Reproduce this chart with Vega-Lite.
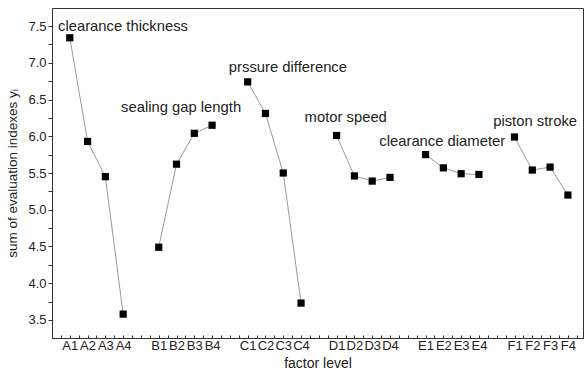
{
  "$schema": "https://vega.github.io/schema/vega-lite/v6.json",
  "autosize": "none",
  "width": 531,
  "height": 330,
  "padding": {"left": 52, "top": 8, "right": 1, "bottom": 35},
  "config": {
    "font": "Liberation Sans",
    "view": {"stroke": "#333", "strokeWidth": 1},
    "axis": {"grid": false, "domainColor": "#333", "tickColor": "#333", "labelColor": "#222", "titleColor": "#222", "labelFont": "Liberation Sans", "titleFont": "Liberation Sans", "titleFontWeight": "normal", "labelFontSize": 13, "titleFontSize": 14}
  },
  "datasets": {
    "pts": [
      {"group": "A", "level": "A1", "pos": 1, "y": 7.34},
      {"group": "A", "level": "A2", "pos": 2, "y": 5.93},
      {"group": "A", "level": "A3", "pos": 3, "y": 5.45},
      {"group": "A", "level": "A4", "pos": 4, "y": 3.58},
      {"group": "B", "level": "B1", "pos": 6, "y": 4.49},
      {"group": "B", "level": "B2", "pos": 7, "y": 5.62},
      {"group": "B", "level": "B3", "pos": 8, "y": 6.04},
      {"group": "B", "level": "B4", "pos": 9, "y": 6.15},
      {"group": "C", "level": "C1", "pos": 11, "y": 6.74},
      {"group": "C", "level": "C2", "pos": 12, "y": 6.31},
      {"group": "C", "level": "C3", "pos": 13, "y": 5.50},
      {"group": "C", "level": "C4", "pos": 14, "y": 3.73},
      {"group": "D", "level": "D1", "pos": 16, "y": 6.01},
      {"group": "D", "level": "D2", "pos": 17, "y": 5.46},
      {"group": "D", "level": "D3", "pos": 18, "y": 5.39},
      {"group": "D", "level": "D4", "pos": 19, "y": 5.44},
      {"group": "E", "level": "E1", "pos": 21, "y": 5.75},
      {"group": "E", "level": "E2", "pos": 22, "y": 5.57},
      {"group": "E", "level": "E3", "pos": 23, "y": 5.49},
      {"group": "E", "level": "E4", "pos": 24, "y": 5.48},
      {"group": "F", "level": "F1", "pos": 26, "y": 5.99},
      {"group": "F", "level": "F2", "pos": 27, "y": 5.54},
      {"group": "F", "level": "F3", "pos": 28, "y": 5.58},
      {"group": "F", "level": "F4", "pos": 29, "y": 5.20}
    ],
    "labels": [
      {"text": "clearance thickness", "pos": 0.34, "y": 7.49},
      {"text": "sealing gap length", "pos": 3.88, "y": 6.38},
      {"text": "prssure difference", "pos": 9.94, "y": 6.93},
      {"text": "motor speed", "pos": 14.2, "y": 6.25},
      {"text": "clearance diameter", "pos": 18.4, "y": 5.92},
      {"text": "piston stroke", "pos": 24.8, "y": 6.19}
    ]
  },
  "layer": [
    {
      "data": {"name": "pts"},
      "mark": {"type": "line", "color": "#9a9a9a", "strokeWidth": 1},
      "encoding": {
        "x": {"field": "pos", "type": "quantitative", "scale": {"domain": [0, 29.85], "nice": false, "zero": false},
          "axis": {"title": "factor level", "tickCount": 200, "values": [0.5,1,1.5,2,2.5,3,3.5,4,4.5,5,5.5,6,6.5,7,7.5,8,8.5,9,9.5,10,10.5,11,11.5,12,12.5,13,13.5,14,14.5,15,15.5,16,16.5,17,17.5,18,18.5,19,19.5,20,20.5,21,21.5,22,22.5,23,23.5,24,24.5,25,25.5,26,26.5,27,27.5,28,28.5,29,29.5],
            "labelExpr": "(datum.value % 1 == 0 && datum.value % 5 != 0) ? substring('ABCDEF', floor(datum.value / 5), floor(datum.value / 5) + 1) + (datum.value % 5) : ''",
            "tickSize": -3, "labelPadding": 4, "labelOverlap": false, "labelBound": false, "titlePadding": 4, "labelFlush": false}},
        "y": {"field": "y", "type": "quantitative", "scale": {"domain": [3.255, 7.745], "nice": false, "zero": false},
          "axis": {"title": "sum of evaluation indexes yᵢ", "titleFontSize": 13.5, "tickCount": 100, "values": [3.5,3.75,4,4.25,4.5,4.75,5,5.25,5.5,5.75,6,6.25,6.5,6.75,7,7.25,7.5],
            "labelExpr": "(datum.value * 2) % 1 == 0 ? format(datum.value, '.1f') : ''", "tickSize": 4, "labelPadding": 2, "titlePadding": 8, "labelOverlap": false}},
        "detail": {"field": "group"}
      }
    },
    {
      "data": {"name": "pts"},
      "mark": {"type": "point", "shape": "square", "filled": true, "color": "#000", "size": 52, "opacity": 1},
      "encoding": {
        "x": {"field": "pos", "type": "quantitative"},
        "y": {"field": "y", "type": "quantitative"}
      }
    },
    {
      "data": {"name": "labels"},
      "mark": {"type": "text", "align": "left", "baseline": "middle", "fontSize": 14.8, "color": "#222", "font": "Liberation Sans"},
      "encoding": {
        "x": {"field": "pos", "type": "quantitative"},
        "y": {"field": "y", "type": "quantitative"},
        "text": {"field": "text"}
      }
    }
  ]
}
